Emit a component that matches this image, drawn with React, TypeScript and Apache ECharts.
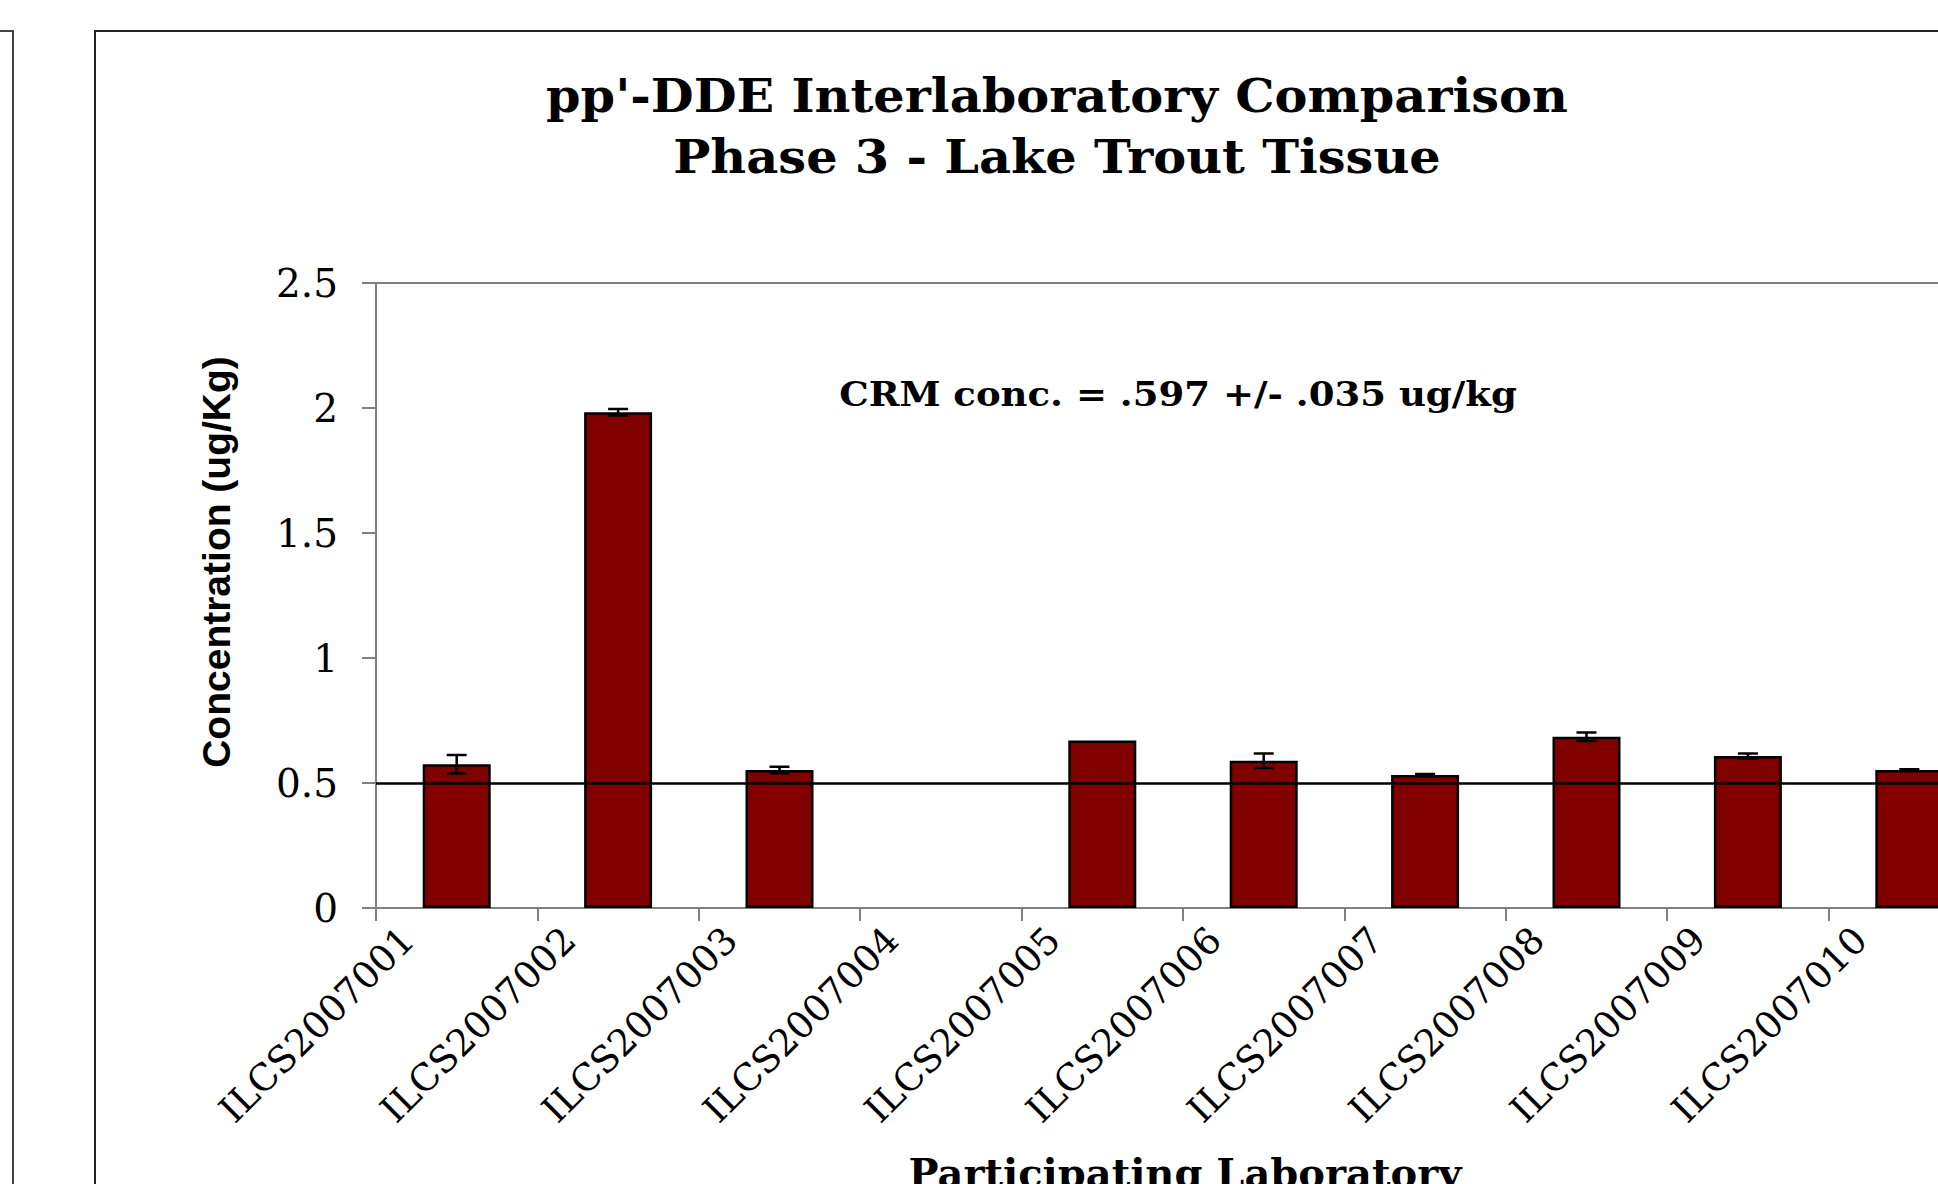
import React, { useEffect, useRef } from "react";
import * as echarts from "echarts";

const categories = [
  "ILCS2007001",
  "ILCS2007002",
  "ILCS2007003",
  "ILCS2007004",
  "ILCS2007005",
  "ILCS2007006",
  "ILCS2007007",
  "ILCS2007008",
  "ILCS2007009",
  "ILCS2007010",
];
const values: (number | null)[] = [0.575, 1.983, 0.552, null, 0.67, 0.589, 0.532, 0.685, 0.608, 0.552];
const errors: (number | null)[] = [0.037, 0.013, 0.013, null, 0, 0.029, 0.004, 0.017, 0.01, 0.003];
const yMin = 0;
const yMax = 2.5;
const yStep = 0.5;
const referenceLine = 0.5;

const titleLines = ["pp'-DDE Interlaboratory Comparison", "Phase 3 - Lake Trout Tissue"];
const crmNote = "CRM conc. = .597 +/- .035 ug/kg";
const yAxisTitle = "Concentration (ug/Kg)";
const xAxisTitle = "Participating Laboratory";

const SERIF = "'DejaVu Serif', 'Liberation Serif', serif";

export default function App() {
  const ref = useRef<HTMLDivElement>(null);

  useEffect(() => {
    if (!ref.current) return;
    const chart = echarts.init(ref.current, null, { renderer: "svg" });

    const errData = values
      .map((v, i) => {
        const e = errors[i];
        if (v == null || e == null || e <= 0) return null;
        return [i, v - e, v + e];
      })
      .filter((d) => d !== null);

    const option: any = {
      animation: false,
      backgroundColor: "#ffffff",
      grid: {
        left: 376,
        top: 283,
        width: 1614,
        height: 625,
        show: true,
        borderColor: "#808080",
        borderWidth: 2,
        backgroundColor: "transparent",
      },
      xAxis: {
        type: "category",
        data: categories,
        boundaryGap: true,
        axisLine: { show: true, lineStyle: { color: "#808080", width: 2 } },
        axisTick: { show: true, length: 13, lineStyle: { color: "#808080", width: 2 } },
        axisLabel: {
          interval: 0,
          rotate: 45,
          fontFamily: SERIF,
          fontSize: 37,
          color: "#000",
          margin: -23,
          padding: [0, 69, 0, 0],
        },
        splitLine: { show: false },
      },
      yAxis: {
        type: "value",
        min: yMin,
        max: yMax,
        interval: yStep,
        axisLine: { show: true, lineStyle: { color: "#808080", width: 2 } },
        axisTick: { show: true, length: 14, lineStyle: { color: "#808080", width: 2 } },
        axisLabel: { fontFamily: SERIF, fontSize: 39, color: "#000", margin: 38 },
        splitLine: { show: false },
      },
      series: [
        {
          type: "bar",
          data: values,
          barWidth: 68,
          itemStyle: { color: "#800000", borderColor: "#000", borderWidth: 2.5 },
          markLine: {
            silent: true,
            symbol: ["none", "none"],
            label: { show: false },
            lineStyle: { color: "#000", width: 2.5, type: "solid" },
            data: [{ yAxis: referenceLine }],
          },
          z: 2,
        },
        {
          type: "custom",
          data: errData,
          encode: { x: 0, y: [1, 2] },
          z: 5,
          renderItem: (params: any, api: any) => {
            const idx = api.value(0);
            const lo = api.coord([idx, api.value(1)]);
            const hi = api.coord([idx, api.value(2)]);
            const half = 10;
            const style = { stroke: "#000", lineWidth: 2.5 };
            return {
              type: "group",
              children: [
                { type: "line", shape: { x1: lo[0], y1: lo[1], x2: hi[0], y2: hi[1] }, style },
                { type: "line", shape: { x1: hi[0] - half, y1: hi[1], x2: hi[0] + half, y2: hi[1] }, style },
                { type: "line", shape: { x1: lo[0] - half, y1: lo[1], x2: lo[0] + half, y2: lo[1] }, style },
              ],
            };
          },
        },
      ],
      graphic: [
        {
          type: "rect",
          shape: { x: 95, y: 31, width: 2100, height: 1400 },
          style: { fill: "transparent", stroke: "#222", lineWidth: 2 },
          z: -1,
        },
        {
          type: "polyline",
          shape: { points: [[0, 31], [13, 31], [13, 1400]] },
          style: { fill: "transparent", stroke: "#444", lineWidth: 2 },
          z: -1,
        },
        {
          type: "text",
          x: 1057,
          y: 96,
          scaleX: 1.075,
          style: {
            text: titleLines[0],
            fontFamily: SERIF,
            fontWeight: "bold",
            fontSize: 46,
            fill: "#000",
            align: "center",
            verticalAlign: "middle",
          },
        },
        {
          type: "text",
          x: 1057,
          y: 157,
          scaleX: 1.075,
          style: {
            text: titleLines[1],
            fontFamily: SERIF,
            fontWeight: "bold",
            fontSize: 46,
            fill: "#000",
            align: "center",
            verticalAlign: "middle",
          },
        },
        {
          type: "text",
          x: 1178,
          y: 394,
          scaleX: 1.09,
          style: {
            text: crmNote,
            fontFamily: SERIF,
            fontWeight: "bold",
            fontSize: 34,
            fill: "#000",
            align: "center",
            verticalAlign: "middle",
          },
        },
        {
          type: "text",
          x: 216,
          y: 562,
          rotation: Math.PI / 2,
          style: {
            text: yAxisTitle,
            fontFamily: "'Liberation Sans', Arial, sans-serif",
            fontWeight: "bold",
            fontSize: 39,
            fill: "#000",
            align: "center",
            verticalAlign: "middle",
          },
        },
        {
          type: "text",
          x: 1185,
          y: 1152,
          style: {
            text: xAxisTitle,
            fontFamily: SERIF,
            fontWeight: "bold",
            fontSize: 40,
            fill: "#000",
            align: "center",
            verticalAlign: "top",
          },
        },
      ],
    };

    chart.setOption(option);
    return () => chart.dispose();
  }, []);

  return (
    <div
      style={{
        position: "fixed",
        left: 0,
        top: 0,
        width: 1938,
        height: 1184,
        overflow: "hidden",
        background: "#fff",
      }}
    >
      <div ref={ref} style={{ width: 2150, height: 1260 }} />
    </div>
  );
}
